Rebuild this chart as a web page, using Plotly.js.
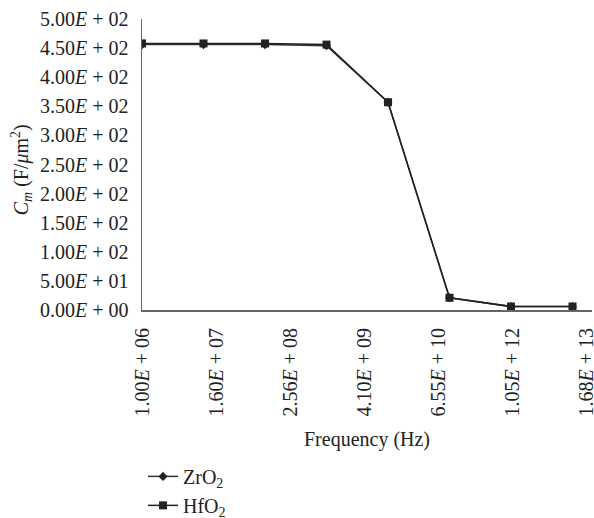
<!DOCTYPE html>
<html>
<head>
<meta charset="utf-8">
<script src="https://cdn.plot.ly/plotly-3.0.1.min.js"></script>
<style>html,body{margin:0;padding:0;background:#fff;}#chart{width:594px;height:518px;}</style>
</head>
<body>
<div id="chart"></div>
<script>
// Data
const frequency = [1e6, 1e7, 1e8, 1e9, 1e10, 1e11, 1e12, 1e13];
const zro2 = [456, 456, 456, 454, 357, 21, 6, 6];
const hfo2 = [458, 458, 458, 456, 357, 21, 6, 6];
const xTickVals = [1e6, 1.6e7, 2.56e8, 4.1e9, 6.55e10, 1.05e12, 1.68e13];
const xTickText = ['1.00<i>E</i> + 06', '1.60<i>E</i> + 07', '2.56<i>E</i> + 08', '4.10<i>E</i> + 09', '6.55<i>E</i> + 10', '1.05<i>E</i> + 12', '1.68<i>E</i> + 13'];
const yTickVals = [0, 50, 100, 150, 200, 250, 300, 350, 400, 450, 500];
const yTickText = ['0.00<i>E</i> + 00', '5.00<i>E</i> + 01', '1.00<i>E</i> + 02', '1.50<i>E</i> + 02', '2.00<i>E</i> + 02', '2.50<i>E</i> + 02', '3.00<i>E</i> + 02', '3.50<i>E</i> + 02', '4.00<i>E</i> + 02', '4.50<i>E</i> + 02', '5.00<i>E</i> + 02'];
const yTitle = '<i>C</i><sub><i>m</i></sub> (F/<i>μ</i>m<sup>2</sup>)';

const font = 'Liberation Serif, Times New Roman, serif';
const traces = [
  {x: frequency, y: zro2, name: 'ZrO<sub>2</sub>', mode: 'lines+markers', type: 'scatter',
   line: {color: '#333', width: 1.5}, marker: {symbol: 'diamond', size: 7, color: '#222'}},
  {x: frequency, y: hfo2, name: 'HfO<sub>2</sub>', mode: 'lines+markers', type: 'scatter',
   line: {color: '#222', width: 1.5}, marker: {symbol: 'square', size: 8, color: '#222'}}
];
const layout = {
  width: 594, height: 518,
  margin: {l: 142, r: 2, t: 19, b: 208, autoexpand: false},
  paper_bgcolor: '#fff', plot_bgcolor: '#fff',
  font: {family: font, size: 20, color: '#222'},
  showlegend: true,
  legend: {xref: 'container', yref: 'container', x: 143 / 594, y: 0.118, xanchor: 'left', yanchor: 'top',
           font: {family: font, size: 20, color: '#222'}, tracegroupgap: 0, itemwidth: 30},
  xaxis: {type: 'log', range: [6, 13.317], tickvals: xTickVals, ticktext: xTickText, tickangle: -90,
          automargin: false, ticklabeloverflow: 'allow',
          showgrid: false, zeroline: false, showline: true, linecolor: '#666', linewidth: 2,
          ticks: 'outside', ticklen: 8, tickcolor: 'rgba(0,0,0,0)',
          title: {text: 'Frequency (Hz)', font: {family: font, size: 20}, standoff: 16}},
  yaxis: {range: [0, 500], tickvals: yTickVals, ticktext: yTickText,
          automargin: false,
          showgrid: false, zeroline: false, showline: true, linecolor: '#666', linewidth: 1.5,
          ticks: 'outside', ticklen: 8, tickcolor: 'rgba(0,0,0,0)'},
  annotations: [{text: yTitle, textangle: -90, xref: 'paper', yref: 'paper',
                 x: (22 - 142) / 450, y: 0.48, xanchor: 'center', yanchor: 'middle', showarrow: false,
                 font: {family: font, size: 20, color: '#222'}}]
};
Plotly.newPlot('chart', traces, layout, {displayModeBar: false, staticPlot: true});
</script>
</body>
</html>
